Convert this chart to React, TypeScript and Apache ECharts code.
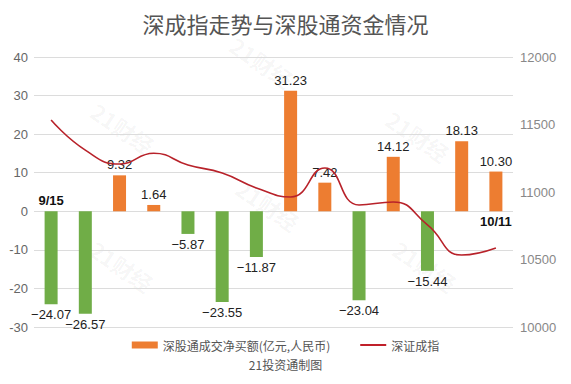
import React, { useEffect, useRef } from "react";
import * as echarts from "echarts";

const categories = ["9/15", "9/16", "9/19", "9/20", "9/21", "9/22", "9/23", "9/26", "9/27", "9/28", "9/29", "9/30", "10/10", "10/11"];
const netBuy = [-24.07, -26.57, 9.32, 1.64, -5.87, -23.55, -11.87, 31.23, 7.42, -23.04, 14.12, -15.44, 18.13, 10.3];
const szIndex = [11533, 11310, 11207, 11287, 11200, 11140, 11030, 10963, 11178, 10904, 10926, 10756, 10533, 10585];
const leftTicks = { min: -30, max: 40, interval: 10 };
const rightTicks = { min: 10000, max: 12000, interval: 500 };

const fmt = (v: number) => (v < 0 ? "\u2212" + Math.abs(v).toFixed(2) : v.toFixed(2));

export default function App() {
  const ref = useRef<HTMLDivElement>(null);
  useEffect(() => {
    document.body.style.margin = "0";
    if (!ref.current) return;
    const chart = echarts.init(ref.current, undefined, { renderer: "svg" });
    const wm = [
      [262, 62], [123, 128], [268, 205], [418, 136], [122, 266], [425, 266],
    ];
    chart.setOption({
      animation: false,
      title: {
        text: "深成指走势与深股通资金情况",
        left: "center",
        top: 7,
        textStyle: { fontSize: 22, fontWeight: "normal", color: "#555", fontFamily: "Noto Sans CJK SC" },
      },
      graphic: [
        ...wm.map(([x, y]) => ({
          type: "text",
          x,
          y,
          rotation: -0.6,
          style: {
            text: "21财经",
            fontSize: 22,
            fontWeight: "bold",
            fill: "rgba(0,0,0,0.045)",
            align: "center",
            verticalAlign: "middle",
            fontFamily: "Noto Sans CJK SC",
          },
          silent: true,
          z: 0,
        })),
        {
          type: "text",
          left: "center",
          top: 358,
          style: { text: "21投资通制图", fontSize: 12, fill: "#555", fontFamily: "Noto Sans CJK SC" },
        },
      ],
      legend: {
        top: 337,
        left: "center",
        padding: 2,
        itemGap: 30,
        itemWidth: 26,
        itemHeight: 7,
        textStyle: { fontSize: 12, color: "#555", fontFamily: "Noto Sans CJK SC" },
        data: [
          { name: "深股通成交净买额(亿元,人民币)", icon: "rect", itemStyle: { color: "#ED7D31" } },
          { name: "深证成指", icon: "path://M0,0 L26,0 L26,2 L0,2 Z", itemStyle: { color: "#C0202A" } },
        ],
      },
      grid: { left: 34, right: 58, top: 57, bottom: 57 },
      xAxis: {
        type: "category",
        data: categories,
        axisLine: { show: false },
        axisTick: { show: false },
        axisLabel: { show: false },
      },
      yAxis: [
        {
          type: "value",
          ...leftTicks,
          axisLabel: { fontSize: 13, color: "#666", margin: 6, fontFamily: "Liberation Sans" },
          splitLine: { lineStyle: { color: "#dcdcdc" } },
          axisLine: { show: false },
          axisTick: { show: false },
        },
        {
          type: "value",
          ...rightTicks,
          position: "right",
          axisLabel: {
            fontSize: 13,
            color: "#888",
            margin: 7,
            fontFamily: "Liberation Sans",
            formatter: (v: number) => String(v),
          },
          splitLine: { show: false },
          axisLine: { show: false },
          axisTick: { show: false },
        },
      ],
      series: [
        {
          name: "深股通成交净买额(亿元,人民币)",
          type: "bar",
          yAxisIndex: 0,
          barWidth: 13,
          data: netBuy.map((v) => ({
            value: v,
            itemStyle: { color: v >= 0 ? "#ED7D31" : "#70AD47" },
            label: { position: v >= 0 ? "top" : "bottom" },
          })),
          label: {
            show: true,
            fontSize: 13,
            color: "#222",
            distance: 4,
            fontFamily: "Liberation Sans",
            formatter: (p: any) => fmt(p.value),
          },
          markPoint: {
            symbol: "circle",
            symbolSize: 0,
            data: [
              {
                coord: [categories[0], 0],
                label: { show: true, position: "top", distance: 4, formatter: categories[0] },
              },
              {
                coord: [categories[categories.length - 1], 0],
                label: { show: true, position: "bottom", distance: 4, formatter: categories[categories.length - 1] },
              },
            ],
            label: { fontSize: 13, fontWeight: "bold", color: "#111", fontFamily: "Liberation Sans" },
          },
          z: 2,
        },
        {
          name: "深证成指",
          type: "line",
          yAxisIndex: 1,
          data: szIndex,
          smooth: 0.5,
          showSymbol: false,
          symbol: "none",
          itemStyle: { color: "#C0202A" },
          lineStyle: { color: "#B8222A", width: 1.6 },
          z: 3,
        },
      ],
    });
    return () => chart.dispose();
  }, []);
  return <div ref={ref} style={{ width: 571, height: 384 }} />;
}
